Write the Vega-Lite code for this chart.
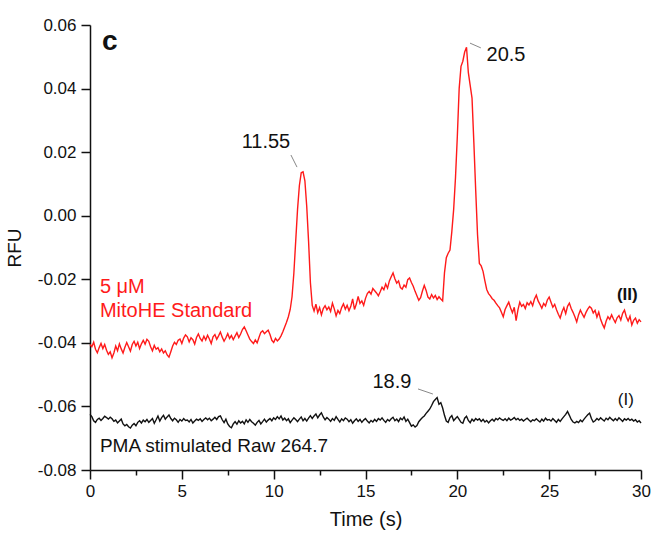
{
"$schema": "https://vega.github.io/schema/vega-lite/v6.json",
"width": 551, "height": 445,
"autosize": {"type": "none"},
"padding": {"left": 90, "top": 25, "right": 11, "bottom": 71},
"background": "white",
"config": {"view": {"stroke": null}, "font": "Liberation Sans"},
"datasets": {
"trace": [
{"t":0.0,"r":-0.0405,"b":-0.0625},{"t":0.1,"r":-0.0412,"b":-0.0632},{"t":0.2,"r":-0.0398,"b":-0.0645},{"t":0.3,"r":-0.0420,"b":-0.0650},{"t":0.4,"r":-0.0431,"b":-0.0641},{"t":0.5,"r":-0.0415,"b":-0.0637},{"t":0.6,"r":-0.0402,"b":-0.0644},{"t":0.7,"r":-0.0418,"b":-0.0638},{"t":0.8,"r":-0.0405,"b":-0.0631},{"t":0.9,"r":-0.0423,"b":-0.0635},
{"t":1.0,"r":-0.0436,"b":-0.0640},{"t":1.1,"r":-0.0428,"b":-0.0634},{"t":1.2,"r":-0.0447,"b":-0.0639},{"t":1.3,"r":-0.0432,"b":-0.0647},{"t":1.4,"r":-0.0410,"b":-0.0643},{"t":1.5,"r":-0.0425,"b":-0.0652},{"t":1.6,"r":-0.0403,"b":-0.0646},{"t":1.7,"r":-0.0419,"b":-0.0640},{"t":1.8,"r":-0.0432,"b":-0.0655},{"t":1.9,"r":-0.0414,"b":-0.0661},
{"t":2.0,"r":-0.0399,"b":-0.0657},{"t":2.1,"r":-0.0412,"b":-0.0664},{"t":2.2,"r":-0.0426,"b":-0.0668},{"t":2.3,"r":-0.0405,"b":-0.0659},{"t":2.4,"r":-0.0395,"b":-0.0654},{"t":2.5,"r":-0.0410,"b":-0.0661},{"t":2.6,"r":-0.0398,"b":-0.0650},{"t":2.7,"r":-0.0418,"b":-0.0645},{"t":2.8,"r":-0.0403,"b":-0.0652},{"t":2.9,"r":-0.0392,"b":-0.0643},
{"t":3.0,"r":-0.0404,"b":-0.0648},{"t":3.1,"r":-0.0389,"b":-0.0641},{"t":3.2,"r":-0.0395,"b":-0.0650},{"t":3.3,"r":-0.0412,"b":-0.0644},{"t":3.4,"r":-0.0425,"b":-0.0638},{"t":3.5,"r":-0.0408,"b":-0.0653},{"t":3.6,"r":-0.0420,"b":-0.0642},{"t":3.7,"r":-0.0415,"b":-0.0630},{"t":3.8,"r":-0.0428,"b":-0.0646},{"t":3.9,"r":-0.0419,"b":-0.0635},
{"t":4.0,"r":-0.0432,"b":-0.0628},{"t":4.1,"r":-0.0425,"b":-0.0640},{"t":4.2,"r":-0.0438,"b":-0.0633},{"t":4.3,"r":-0.0445,"b":-0.0627},{"t":4.4,"r":-0.0428,"b":-0.0638},{"t":4.5,"r":-0.0410,"b":-0.0645},{"t":4.6,"r":-0.0398,"b":-0.0637},{"t":4.7,"r":-0.0405,"b":-0.0642},{"t":4.8,"r":-0.0392,"b":-0.0650},{"t":4.9,"r":-0.0388,"b":-0.0641},
{"t":5.0,"r":-0.0402,"b":-0.0646},{"t":5.1,"r":-0.0385,"b":-0.0638},{"t":5.2,"r":-0.0375,"b":-0.0644},{"t":5.3,"r":-0.0381,"b":-0.0643},{"t":5.4,"r":-0.0397,"b":-0.0649},{"t":5.5,"r":-0.0384,"b":-0.0641},{"t":5.6,"r":-0.0390,"b":-0.0652},{"t":5.7,"r":-0.0404,"b":-0.0646},{"t":5.8,"r":-0.0383,"b":-0.0640},{"t":5.9,"r":-0.0372,"b":-0.0644},
{"t":6.0,"r":-0.0386,"b":-0.0639},{"t":6.1,"r":-0.0394,"b":-0.0647},{"t":6.2,"r":-0.0379,"b":-0.0641},{"t":6.3,"r":-0.0391,"b":-0.0636},{"t":6.4,"r":-0.0376,"b":-0.0642},{"t":6.5,"r":-0.0388,"b":-0.0637},{"t":6.6,"r":-0.0402,"b":-0.0645},{"t":6.7,"r":-0.0381,"b":-0.0640},{"t":6.8,"r":-0.0374,"b":-0.0634},{"t":6.9,"r":-0.0389,"b":-0.0641},
{"t":7.0,"r":-0.0378,"b":-0.0632},{"t":7.1,"r":-0.0366,"b":-0.0630},{"t":7.2,"r":-0.0382,"b":-0.0642},{"t":7.3,"r":-0.0395,"b":-0.0651},{"t":7.4,"r":-0.0384,"b":-0.0640},{"t":7.5,"r":-0.0371,"b":-0.0655},{"t":7.6,"r":-0.0386,"b":-0.0663},{"t":7.7,"r":-0.0377,"b":-0.0667},{"t":7.8,"r":-0.0390,"b":-0.0655},{"t":7.9,"r":-0.0379,"b":-0.0648},
{"t":8.0,"r":-0.0368,"b":-0.0656},{"t":8.1,"r":-0.0383,"b":-0.0645},{"t":8.2,"r":-0.0372,"b":-0.0652},{"t":8.3,"r":-0.0358,"b":-0.0647},{"t":8.4,"r":-0.0350,"b":-0.0655},{"t":8.5,"r":-0.0362,"b":-0.0642},{"t":8.6,"r":-0.0375,"b":-0.0650},{"t":8.7,"r":-0.0388,"b":-0.0641},{"t":8.8,"r":-0.0396,"b":-0.0648},{"t":8.9,"r":-0.0402,"b":-0.0653},
{"t":9.0,"r":-0.0391,"b":-0.0659},{"t":9.1,"r":-0.0400,"b":-0.0650},{"t":9.2,"r":-0.0383,"b":-0.0644},{"t":9.3,"r":-0.0367,"b":-0.0655},{"t":9.4,"r":-0.0362,"b":-0.0648},{"t":9.5,"r":-0.0371,"b":-0.0640},{"t":9.6,"r":-0.0365,"b":-0.0649},{"t":9.7,"r":-0.0360,"b":-0.0643},{"t":9.8,"r":-0.0374,"b":-0.0638},{"t":9.9,"r":-0.0392,"b":-0.0645},
{"t":10.0,"r":-0.0399,"b":-0.0636},{"t":10.1,"r":-0.0386,"b":-0.0641},{"t":10.2,"r":-0.0394,"b":-0.0632},{"t":10.3,"r":-0.0388,"b":-0.0639},{"t":10.4,"r":-0.0378,"b":-0.0630},{"t":10.5,"r":-0.0365,"b":-0.0643},{"t":10.6,"r":-0.0350,"b":-0.0637},{"t":10.7,"r":-0.0335,"b":-0.0645},{"t":10.8,"r":-0.0318,"b":-0.0639},{"t":10.9,"r":-0.0295,"b":-0.0651},
{"t":11.0,"r":-0.0255,"b":-0.0643},{"t":11.1,"r":-0.0180,"b":-0.0636},{"t":11.2,"r":-0.0080,"b":-0.0641},{"t":11.3,"r":0.0020,"b":-0.0648},{"t":11.4,"r":0.0095,"b":-0.0640},{"t":11.5,"r":0.0135,"b":-0.0633},{"t":11.6,"r":0.0138,"b":-0.0645},{"t":11.7,"r":0.0110,"b":-0.0638},{"t":11.8,"r":0.0030,"b":-0.0646},{"t":11.9,"r":-0.0080,"b":-0.0637},
{"t":12.0,"r":-0.0210,"b":-0.0629},{"t":12.1,"r":-0.0282,"b":-0.0638},{"t":12.2,"r":-0.0300,"b":-0.0630},{"t":12.3,"r":-0.0278,"b":-0.0624},{"t":12.4,"r":-0.0305,"b":-0.0636},{"t":12.5,"r":-0.0289,"b":-0.0627},{"t":12.6,"r":-0.0312,"b":-0.0620},{"t":12.7,"r":-0.0292,"b":-0.0633},{"t":12.8,"r":-0.0283,"b":-0.0642},{"t":12.9,"r":-0.0296,"b":-0.0635},
{"t":13.0,"r":-0.0287,"b":-0.0640},{"t":13.1,"r":-0.0301,"b":-0.0647},{"t":13.2,"r":-0.0275,"b":-0.0638},{"t":13.3,"r":-0.0293,"b":-0.0644},{"t":13.4,"r":-0.0315,"b":-0.0632},{"t":13.5,"r":-0.0298,"b":-0.0641},{"t":13.6,"r":-0.0308,"b":-0.0649},{"t":13.7,"r":-0.0289,"b":-0.0639},{"t":13.8,"r":-0.0277,"b":-0.0645},{"t":13.9,"r":-0.0294,"b":-0.0636},
{"t":14.0,"r":-0.0282,"b":-0.0640},{"t":14.1,"r":-0.0299,"b":-0.0648},{"t":14.2,"r":-0.0285,"b":-0.0642},{"t":14.3,"r":-0.0262,"b":-0.0653},{"t":14.4,"r":-0.0295,"b":-0.0645},{"t":14.5,"r":-0.0278,"b":-0.0639},{"t":14.6,"r":-0.0254,"b":-0.0647},{"t":14.7,"r":-0.0276,"b":-0.0641},{"t":14.8,"r":-0.0268,"b":-0.0650},{"t":14.9,"r":-0.0282,"b":-0.0643},
{"t":15.0,"r":-0.0260,"b":-0.0638},{"t":15.1,"r":-0.0245,"b":-0.0646},{"t":15.2,"r":-0.0238,"b":-0.0652},{"t":15.3,"r":-0.0247,"b":-0.0644},{"t":15.4,"r":-0.0229,"b":-0.0649},{"t":15.5,"r":-0.0236,"b":-0.0641},{"t":15.6,"r":-0.0243,"b":-0.0647},{"t":15.7,"r":-0.0252,"b":-0.0638},{"t":15.8,"r":-0.0239,"b":-0.0643},{"t":15.9,"r":-0.0225,"b":-0.0636},
{"t":16.0,"r":-0.0233,"b":-0.0644},{"t":16.1,"r":-0.0215,"b":-0.0650},{"t":16.2,"r":-0.0228,"b":-0.0641},{"t":16.3,"r":-0.0205,"b":-0.0646},{"t":16.4,"r":-0.0192,"b":-0.0639},{"t":16.5,"r":-0.0180,"b":-0.0634},{"t":16.6,"r":-0.0198,"b":-0.0645},{"t":16.7,"r":-0.0212,"b":-0.0640},{"t":16.8,"r":-0.0205,"b":-0.0648},{"t":16.9,"r":-0.0226,"b":-0.0637},
{"t":17.0,"r":-0.0231,"b":-0.0642},{"t":17.1,"r":-0.0218,"b":-0.0633},{"t":17.2,"r":-0.0225,"b":-0.0647},{"t":17.3,"r":-0.0201,"b":-0.0640},{"t":17.4,"r":-0.0196,"b":-0.0651},{"t":17.5,"r":-0.0210,"b":-0.0662},{"t":17.6,"r":-0.0222,"b":-0.0658},{"t":17.7,"r":-0.0238,"b":-0.0665},{"t":17.8,"r":-0.0252,"b":-0.0660},{"t":17.9,"r":-0.0266,"b":-0.0648},
{"t":18.0,"r":-0.0258,"b":-0.0641},{"t":18.1,"r":-0.0237,"b":-0.0635},{"t":18.2,"r":-0.0219,"b":-0.0630},{"t":18.3,"r":-0.0235,"b":-0.0622},{"t":18.4,"r":-0.0256,"b":-0.0615},{"t":18.5,"r":-0.0262,"b":-0.0608},{"t":18.6,"r":-0.0248,"b":-0.0597},{"t":18.7,"r":-0.0259,"b":-0.0585},{"t":18.8,"r":-0.0251,"b":-0.0578},{"t":18.9,"r":-0.0264,"b":-0.0572},
{"t":19.0,"r":-0.0255,"b":-0.0593},{"t":19.1,"r":-0.0262,"b":-0.0588},{"t":19.2,"r":-0.0268,"b":-0.0605},{"t":19.3,"r":-0.0180,"b":-0.0628},{"t":19.4,"r":-0.0132,"b":-0.0646},{"t":19.5,"r":-0.0118,"b":-0.0650},{"t":19.6,"r":-0.0108,"b":-0.0635},{"t":19.7,"r":-0.0050,"b":-0.0629},{"t":19.8,"r":0.0020,"b":-0.0645},{"t":19.9,"r":0.0120,"b":-0.0638},
{"t":20.0,"r":0.0250,"b":-0.0632},{"t":20.1,"r":0.0400,"b":-0.0641},{"t":20.2,"r":0.0470,"b":-0.0650},{"t":20.3,"r":0.0486,"b":-0.0653},{"t":20.4,"r":0.0515,"b":-0.0637},{"t":20.5,"r":0.0530,"b":-0.0631},{"t":20.6,"r":0.0450,"b":-0.0644},{"t":20.7,"r":0.0410,"b":-0.0651},{"t":20.8,"r":0.0370,"b":-0.0640},{"t":20.9,"r":0.0230,"b":-0.0646},
{"t":21.0,"r":0.0080,"b":-0.0638},{"t":21.1,"r":-0.0060,"b":-0.0643},{"t":21.2,"r":-0.0150,"b":-0.0639},{"t":21.3,"r":-0.0158,"b":-0.0647},{"t":21.4,"r":-0.0175,"b":-0.0641},{"t":21.5,"r":-0.0205,"b":-0.0649},{"t":21.6,"r":-0.0232,"b":-0.0644},{"t":21.7,"r":-0.0245,"b":-0.0652},{"t":21.8,"r":-0.0252,"b":-0.0645},{"t":21.9,"r":-0.0261,"b":-0.0640},
{"t":22.0,"r":-0.0266,"b":-0.0646},{"t":22.1,"r":-0.0275,"b":-0.0638},{"t":22.2,"r":-0.0283,"b":-0.0642},{"t":22.3,"r":-0.0290,"b":-0.0636},{"t":22.4,"r":-0.0304,"b":-0.0641},{"t":22.5,"r":-0.0318,"b":-0.0644},{"t":22.6,"r":-0.0295,"b":-0.0639},{"t":22.7,"r":-0.0283,"b":-0.0645},{"t":22.8,"r":-0.0272,"b":-0.0637},{"t":22.9,"r":-0.0290,"b":-0.0643},
{"t":23.0,"r":-0.0305,"b":-0.0640},{"t":23.1,"r":-0.0288,"b":-0.0635},{"t":23.2,"r":-0.0330,"b":-0.0642},{"t":23.3,"r":-0.0296,"b":-0.0638},{"t":23.4,"r":-0.0272,"b":-0.0644},{"t":23.5,"r":-0.0285,"b":-0.0640},{"t":23.6,"r":-0.0279,"b":-0.0646},{"t":23.7,"r":-0.0292,"b":-0.0641},{"t":23.8,"r":-0.0274,"b":-0.0637},{"t":23.9,"r":-0.0281,"b":-0.0643},
{"t":24.0,"r":-0.0270,"b":-0.0648},{"t":24.1,"r":-0.0283,"b":-0.0642},{"t":24.2,"r":-0.0262,"b":-0.0645},{"t":24.3,"r":-0.0250,"b":-0.0639},{"t":24.4,"r":-0.0268,"b":-0.0644},{"t":24.5,"r":-0.0279,"b":-0.0649},{"t":24.6,"r":-0.0291,"b":-0.0640},{"t":24.7,"r":-0.0276,"b":-0.0646},{"t":24.8,"r":-0.0284,"b":-0.0637},{"t":24.9,"r":-0.0265,"b":-0.0643},
{"t":25.0,"r":-0.0256,"b":-0.0641},{"t":25.1,"r":-0.0272,"b":-0.0646},{"t":25.2,"r":-0.0288,"b":-0.0638},{"t":25.3,"r":-0.0279,"b":-0.0644},{"t":25.4,"r":-0.0296,"b":-0.0650},{"t":25.5,"r":-0.0310,"b":-0.0641},{"t":25.6,"r":-0.0322,"b":-0.0647},{"t":25.7,"r":-0.0302,"b":-0.0639},{"t":25.8,"r":-0.0289,"b":-0.0632},{"t":25.9,"r":-0.0308,"b":-0.0625},
{"t":26.0,"r":-0.0285,"b":-0.0616},{"t":26.1,"r":-0.0275,"b":-0.0628},{"t":26.2,"r":-0.0292,"b":-0.0641},{"t":26.3,"r":-0.0304,"b":-0.0649},{"t":26.4,"r":-0.0318,"b":-0.0652},{"t":26.5,"r":-0.0334,"b":-0.0647},{"t":26.6,"r":-0.0312,"b":-0.0651},{"t":26.7,"r":-0.0297,"b":-0.0643},{"t":26.8,"r":-0.0309,"b":-0.0648},{"t":26.9,"r":-0.0320,"b":-0.0640},
{"t":27.0,"r":-0.0305,"b":-0.0633},{"t":27.1,"r":-0.0294,"b":-0.0626},{"t":27.2,"r":-0.0286,"b":-0.0621},{"t":27.3,"r":-0.0291,"b":-0.0638},{"t":27.4,"r":-0.0306,"b":-0.0649},{"t":27.5,"r":-0.0298,"b":-0.0645},{"t":27.6,"r":-0.0319,"b":-0.0638},{"t":27.7,"r":-0.0303,"b":-0.0643},{"t":27.8,"r":-0.0326,"b":-0.0636},{"t":27.9,"r":-0.0341,"b":-0.0641},
{"t":28.0,"r":-0.0353,"b":-0.0646},{"t":28.1,"r":-0.0332,"b":-0.0637},{"t":28.2,"r":-0.0318,"b":-0.0642},{"t":28.3,"r":-0.0326,"b":-0.0634},{"t":28.4,"r":-0.0312,"b":-0.0640},{"t":28.5,"r":-0.0325,"b":-0.0645},{"t":28.6,"r":-0.0336,"b":-0.0638},{"t":28.7,"r":-0.0321,"b":-0.0644},{"t":28.8,"r":-0.0314,"b":-0.0636},{"t":28.9,"r":-0.0328,"b":-0.0641},
{"t":29.0,"r":-0.0307,"b":-0.0647},{"t":29.1,"r":-0.0297,"b":-0.0639},{"t":29.2,"r":-0.0318,"b":-0.0643},{"t":29.3,"r":-0.0331,"b":-0.0638},{"t":29.4,"r":-0.0316,"b":-0.0644},{"t":29.5,"r":-0.0344,"b":-0.0640},{"t":29.6,"r":-0.0329,"b":-0.0646},{"t":29.7,"r":-0.0322,"b":-0.0642},{"t":29.8,"r":-0.0338,"b":-0.0649},{"t":29.9,"r":-0.0327,"b":-0.0645},
{"t":30.0,"r":-0.0334,"b":-0.0652}
],
"leaders": [
{"t":10.94,"v":0.0191,"t2":11.27,"v2":0.0153},
{"t":20.69,"v":0.0543,"t2":21.28,"v2":0.0528},
{"t":17.86,"v":-0.0545,"t2":18.67,"v2":-0.0561}
],
"peaks": [
{"t":9.58,"v":0.0213,"label":"11.55"},
{"t":22.65,"v":0.0487,"label":"20.5"},
{"t":16.44,"v":-0.0542,"label":"18.9"}
]
},
"layer": [
{
"data": {"name": "trace"},
"mark": {"type": "line", "color": "#ff1a1a", "strokeWidth": 1.4},
"encoding": {
"x": {"field": "t", "type": "quantitative", "scale": {"domain": [0, 30], "nice": false, "zero": false},
"axis": {"title": "Time (s)", "values": [0,2.5,5,7.5,10,12.5,15,17.5,20,22.5,25,27.5,30],
"labelExpr": "datum.value % 5 === 0 ? format(datum.value, 'd') : ''",
"tickSize": {"condition": {"test": "datum.value % 5 === 0", "value": 9}, "value": 5},
"grid": false, "domainColor": "#111", "domainWidth": 1.5, "tickColor": "#111", "tickWidth": 1.5,
"labelFontSize": 17, "labelColor": "#111", "labelPadding": 4, "labelFlush": false, "labelOverlap": false,
"titleFontSize": 20, "titleFontWeight": "normal", "titleColor": "#111", "titlePadding": 10}},
"y": {"field": "r", "type": "quantitative", "scale": {"domain": [-0.08, 0.06], "nice": false, "zero": false},
"axis": {"title": "RFU", "values": [-0.08,-0.07,-0.06,-0.05,-0.04,-0.03,-0.02,-0.01,0,0.01,0.02,0.03,0.04,0.05,0.06],
"labelExpr": "abs(round(datum.value*100)) % 2 === 0 ? (datum.value < -0.001 ? '-' : '') + format(abs(datum.value), '.2f') : ''",
"tickSize": {"condition": {"test": "abs(round(datum.value*100)) % 2 === 0", "value": 9}, "value": 5},
"grid": false, "domainColor": "#111", "domainWidth": 1.5, "tickColor": "#111", "tickWidth": 1.5,
"labelFontSize": 17, "labelColor": "#111", "labelPadding": 5, "labelFlush": false, "labelOverlap": false,
"titleFontSize": 19, "titleFontWeight": "normal", "titleColor": "#111", "titlePadding": 13}}
}
},
{
"data": {"name": "trace"},
"mark": {"type": "line", "color": "#111111", "strokeWidth": 1.4},
"encoding": {
"x": {"field": "t", "type": "quantitative"},
"y": {"field": "b", "type": "quantitative"}
}
},
{
"data": {"name": "leaders"},
"mark": {"type": "rule", "color": "#888888", "strokeWidth": 1},
"encoding": {
"x": {"field": "t", "type": "quantitative"},
"y": {"field": "v", "type": "quantitative"},
"x2": {"field": "t2"},
"y2": {"field": "v2"}
}
},
{
"data": {"name": "peaks"},
"mark": {"type": "text", "fontSize": 20, "color": "#111", "align": "center", "baseline": "alphabetic"},
"encoding": {
"x": {"field": "t", "type": "quantitative"},
"y": {"field": "v", "type": "quantitative"},
"text": {"field": "label"}
}
},
{
"data": {"values": [{"t": 28.69, "v": -0.0265, "label": "(II)"}]},
"mark": {"type": "text", "fontSize": 17, "fontWeight": "bold", "color": "#111", "align": "left", "baseline": "alphabetic"},
"encoding": {
"x": {"field": "t", "type": "quantitative"},
"y": {"field": "v", "type": "quantitative"},
"text": {"field": "label"}
}
},
{
"data": {"values": [{"t": 28.74, "v": -0.0596, "label": "(I)"}]},
"mark": {"type": "text", "fontSize": 17, "color": "#111", "align": "left", "baseline": "alphabetic"},
"encoding": {
"x": {"field": "t", "type": "quantitative"},
"y": {"field": "v", "type": "quantitative"},
"text": {"field": "label"}
}
},
{
"data": {"values": [{"t": 0.54, "v": -0.0243, "label": "5 μM"}, {"t": 0.54, "v": -0.0319, "label": "MitoHE Standard"}]},
"mark": {"type": "text", "fontSize": 20, "color": "#ff1a1a", "align": "left", "baseline": "alphabetic"},
"encoding": {
"x": {"field": "t", "type": "quantitative"},
"y": {"field": "v", "type": "quantitative"},
"text": {"field": "label"}
}
},
{
"data": {"values": [{"t": 0.54, "v": -0.0743, "label": "PMA stimulated Raw 264.7"}]},
"mark": {"type": "text", "fontSize": 19, "color": "#111", "align": "left", "baseline": "alphabetic"},
"encoding": {
"x": {"field": "t", "type": "quantitative"},
"y": {"field": "v", "type": "quantitative"},
"text": {"field": "label"}
}
},
{
"data": {"values": [{"t": 0.65, "v": 0.0521, "label": "c"}]},
"mark": {"type": "text", "fontSize": 28, "fontWeight": "bold", "color": "#111", "align": "left", "baseline": "alphabetic"},
"encoding": {
"x": {"field": "t", "type": "quantitative"},
"y": {"field": "v", "type": "quantitative"},
"text": {"field": "label"}
}
}
]
}
